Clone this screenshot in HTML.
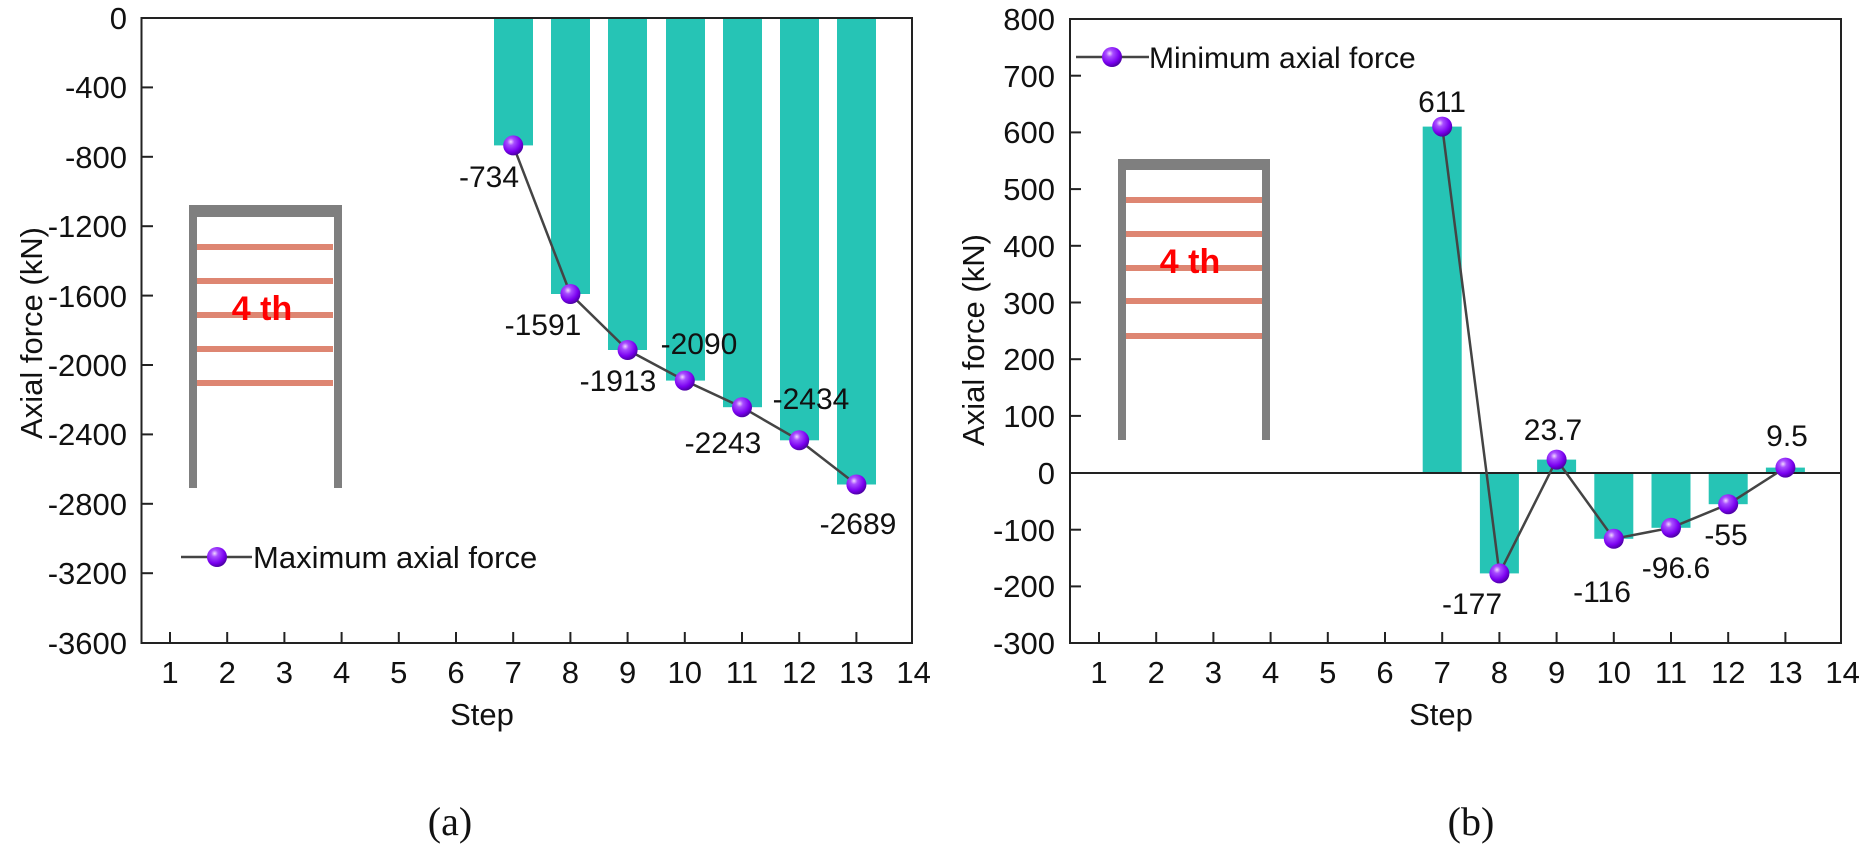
<!DOCTYPE html>
<html><head><meta charset="utf-8"><style>
html,body{margin:0;padding:0;background:#fff;}
svg{display:block;}
text{font-family:"Liberation Sans",Arial,sans-serif;fill:#111;}
</style></head><body>
<svg width="1870" height="852" viewBox="0 0 1870 852" xmlns="http://www.w3.org/2000/svg">
<defs>
<radialGradient id="ball" cx="0.38" cy="0.32" r="0.7">
<stop offset="0" stop-color="#f0d8ff"/>
<stop offset="0.25" stop-color="#a84dff"/>
<stop offset="0.7" stop-color="#7a00f0"/>
<stop offset="1" stop-color="#4a00a0"/>
</radialGradient>
</defs>

<g>
<g fill="#26c4b5">
<rect x="494" y="18" width="39" height="127.4"/>
<rect x="551" y="18" width="39" height="276"/>
<rect x="608" y="18" width="39" height="332"/>
<rect x="666" y="18" width="39" height="362.6"/>
<rect x="723" y="18" width="39" height="389.2"/>
<rect x="780" y="18" width="39" height="422.3"/>
<rect x="837" y="18" width="39" height="466.5"/>
</g>
<rect x="141.5" y="18" width="770.5" height="625" fill="none" stroke="#222" stroke-width="2"/>
<g stroke="#222" stroke-width="2">
<line x1="141.5" y1="87.4" x2="153" y2="87.4"/>
<line x1="141.5" y1="156.8" x2="153" y2="156.8"/>
<line x1="141.5" y1="226.2" x2="153" y2="226.2"/>
<line x1="141.5" y1="295.6" x2="153" y2="295.6"/>
<line x1="141.5" y1="365" x2="153" y2="365"/>
<line x1="141.5" y1="434.4" x2="153" y2="434.4"/>
<line x1="141.5" y1="503.8" x2="153" y2="503.8"/>
<line x1="141.5" y1="573.2" x2="153" y2="573.2"/>
</g>
<g font-size="31" text-anchor="end">
<text x="127" y="29">0</text>
<text x="127" y="98">-400</text>
<text x="127" y="168">-800</text>
<text x="127" y="237">-1200</text>
<text x="127" y="307">-1600</text>
<text x="127" y="376">-2000</text>
<text x="127" y="445">-2400</text>
<text x="127" y="515">-2800</text>
<text x="127" y="584">-3200</text>
<text x="127" y="654">-3600</text>
</g>
<g stroke="#222" stroke-width="2">
<line x1="170" y1="643" x2="170" y2="632"/><line x1="227.2" y1="643" x2="227.2" y2="632"/>
<line x1="284.4" y1="643" x2="284.4" y2="632"/><line x1="341.6" y1="643" x2="341.6" y2="632"/>
<line x1="398.8" y1="643" x2="398.8" y2="632"/><line x1="456" y1="643" x2="456" y2="632"/>
<line x1="513.2" y1="643" x2="513.2" y2="632"/><line x1="570.4" y1="643" x2="570.4" y2="632"/>
<line x1="627.6" y1="643" x2="627.6" y2="632"/><line x1="684.8" y1="643" x2="684.8" y2="632"/>
<line x1="742" y1="643" x2="742" y2="632"/><line x1="799.2" y1="643" x2="799.2" y2="632"/>
<line x1="856.4" y1="643" x2="856.4" y2="632"/>
</g>
<g font-size="31" text-anchor="middle">
<text x="170" y="683">1</text><text x="227.2" y="683">2</text><text x="284.4" y="683">3</text>
<text x="341.6" y="683">4</text><text x="398.8" y="683">5</text><text x="456" y="683">6</text>
<text x="513.2" y="683">7</text><text x="570.4" y="683">8</text><text x="627.6" y="683">9</text>
<text x="684.8" y="683">10</text><text x="742" y="683">11</text><text x="799.2" y="683">12</text>
<text x="856.4" y="683">13</text><text x="913.6" y="683">14</text>
<text x="482" y="725">Step</text>
</g>
<text font-size="31" text-anchor="middle" transform="translate(42,333) rotate(-90)">Axial force (kN)</text>
<g fill="#de8672">
<rect x="197" y="244" width="136" height="6"/>
<rect x="197" y="278" width="136" height="6"/>
<rect x="197" y="312" width="136" height="6"/>
<rect x="197" y="346" width="136" height="6"/>
<rect x="197" y="380" width="136" height="6"/>
</g>
<g fill="#7f7f7f">
<rect x="189" y="205" width="153" height="12"/>
<rect x="189" y="205" width="8" height="283"/>
<rect x="334" y="205" width="8" height="283"/>
</g>
<text x="262" y="320" font-size="34" font-weight="bold" text-anchor="middle" style="fill:#ff0000">4 th</text>
<polyline fill="none" stroke="#444" stroke-width="2.5" points="513.2,145.4 570.4,294 627.6,350 684.8,380.6 742,407.2 799.2,440.3 856.4,484.5"/>
<g fill="url(#ball)">
<circle cx="513.2" cy="145.4" r="10"/><circle cx="570.4" cy="294" r="10"/>
<circle cx="627.6" cy="350" r="10"/><circle cx="684.8" cy="380.6" r="10"/>
<circle cx="742" cy="407.2" r="10"/><circle cx="799.2" cy="440.3" r="10"/>
<circle cx="856.4" cy="484.5" r="10"/>
</g>
<g font-size="30" text-anchor="middle">
<text x="489" y="187">-734</text>
<text x="543" y="335">-1591</text>
<text x="699" y="354">-2090</text>
<text x="618" y="391">-1913</text>
<text x="723" y="453">-2243</text>
<text x="811" y="409">-2434</text>
<text x="858" y="534">-2689</text>
</g>
<line x1="181" y1="557" x2="252" y2="557" stroke="#444" stroke-width="2.5"/>
<circle cx="217" cy="557" r="10" fill="url(#ball)"/>
<text x="253" y="568" font-size="31">Maximum axial force</text>
<text x="450" y="835" font-size="40" text-anchor="middle" style="font-family:'Liberation Serif',serif">(a)</text>
</g>

<g>
<g fill="#26c4b5">
<rect x="1422.7" y="126.6" width="39" height="346.4"/>
<rect x="1479.9" y="473" width="39" height="100.4"/>
<rect x="1537.1" y="459.6" width="39" height="13.4"/>
<rect x="1594.3" y="473" width="39" height="65.8"/>
<rect x="1651.5" y="473" width="39" height="54.8"/>
<rect x="1708.7" y="473" width="39" height="31.2"/>
<rect x="1765.9" y="467.6" width="39" height="5.4"/>
</g>
<rect x="1070" y="19" width="771" height="624" fill="none" stroke="#222" stroke-width="2"/>
<line x1="1070" y1="473" x2="1841" y2="473" stroke="#222" stroke-width="2"/>
<g stroke="#222" stroke-width="2">
<line x1="1070" y1="75.7" x2="1081" y2="75.7"/><line x1="1070" y1="132.4" x2="1081" y2="132.4"/>
<line x1="1070" y1="189.1" x2="1081" y2="189.1"/><line x1="1070" y1="245.8" x2="1081" y2="245.8"/>
<line x1="1070" y1="302.5" x2="1081" y2="302.5"/><line x1="1070" y1="359.2" x2="1081" y2="359.2"/>
<line x1="1070" y1="415.9" x2="1081" y2="415.9"/><line x1="1070" y1="529.7" x2="1081" y2="529.7"/>
<line x1="1070" y1="586.4" x2="1081" y2="586.4"/>
</g>
<g font-size="31" text-anchor="end">
<text x="1055" y="30">800</text><text x="1055" y="87">700</text><text x="1055" y="143">600</text>
<text x="1055" y="200">500</text><text x="1055" y="257">400</text><text x="1055" y="314">300</text>
<text x="1055" y="370">200</text><text x="1055" y="427">100</text><text x="1055" y="484">0</text>
<text x="1055" y="541">-100</text><text x="1055" y="597">-200</text><text x="1055" y="654">-300</text>
</g>
<g stroke="#222" stroke-width="2">
<line x1="1099" y1="643" x2="1099" y2="632"/><line x1="1156.2" y1="643" x2="1156.2" y2="632"/>
<line x1="1213.4" y1="643" x2="1213.4" y2="632"/><line x1="1270.6" y1="643" x2="1270.6" y2="632"/>
<line x1="1327.8" y1="643" x2="1327.8" y2="632"/><line x1="1385" y1="643" x2="1385" y2="632"/>
<line x1="1442.2" y1="643" x2="1442.2" y2="632"/><line x1="1499.4" y1="643" x2="1499.4" y2="632"/>
<line x1="1556.6" y1="643" x2="1556.6" y2="632"/><line x1="1613.8" y1="643" x2="1613.8" y2="632"/>
<line x1="1671" y1="643" x2="1671" y2="632"/><line x1="1728.2" y1="643" x2="1728.2" y2="632"/>
<line x1="1785.4" y1="643" x2="1785.4" y2="632"/>
</g>
<g font-size="31" text-anchor="middle">
<text x="1099" y="683">1</text><text x="1156.2" y="683">2</text><text x="1213.4" y="683">3</text>
<text x="1270.6" y="683">4</text><text x="1327.8" y="683">5</text><text x="1385" y="683">6</text>
<text x="1442.2" y="683">7</text><text x="1499.4" y="683">8</text><text x="1556.6" y="683">9</text>
<text x="1613.8" y="683">10</text><text x="1671" y="683">11</text><text x="1728.2" y="683">12</text>
<text x="1785.4" y="683">13</text><text x="1842.6" y="683">14</text>
<text x="1441" y="725">Step</text>
</g>
<text font-size="31" text-anchor="middle" transform="translate(984,340) rotate(-90)">Axial force (kN)</text>
<g fill="#de8672">
<rect x="1126" y="197" width="136" height="6"/>
<rect x="1126" y="231" width="136" height="6"/>
<rect x="1126" y="265" width="136" height="6"/>
<rect x="1126" y="298" width="136" height="6"/>
<rect x="1126" y="333" width="136" height="6"/>
</g>
<g fill="#7f7f7f">
<rect x="1118" y="159" width="152" height="11"/>
<rect x="1118" y="159" width="8" height="281"/>
<rect x="1262" y="159" width="8" height="281"/>
</g>
<text x="1190" y="273" font-size="34" font-weight="bold" text-anchor="middle" style="fill:#ff0000">4 th</text>
<polyline fill="none" stroke="#444" stroke-width="2.5" points="1442.2,126.6 1499.4,573.4 1556.6,459.6 1613.8,538.8 1671,527.8 1728.2,504.2 1785.4,467.6"/>
<g fill="url(#ball)">
<circle cx="1442.2" cy="126.6" r="10"/><circle cx="1499.4" cy="573.4" r="10"/>
<circle cx="1556.6" cy="459.6" r="10"/><circle cx="1613.8" cy="538.8" r="10"/>
<circle cx="1671" cy="527.8" r="10"/><circle cx="1728.2" cy="504.2" r="10"/>
<circle cx="1785.4" cy="467.6" r="10"/>
</g>
<g font-size="30" text-anchor="middle">
<text x="1442" y="112">611</text>
<text x="1472" y="614">-177</text>
<text x="1553" y="440">23.7</text>
<text x="1602" y="602">-116</text>
<text x="1676" y="578">-96.6</text>
<text x="1726" y="545">-55</text>
<text x="1787" y="446">9.5</text>
</g>
<line x1="1076" y1="57" x2="1149" y2="57" stroke="#444" stroke-width="2.5"/>
<circle cx="1112" cy="57" r="10" fill="url(#ball)"/>
<text x="1149" y="68" font-size="30">Minimum axial force</text>
<text x="1471" y="835" font-size="40" text-anchor="middle" style="font-family:'Liberation Serif',serif">(b)</text>
</g>
</svg>
</body></html>
